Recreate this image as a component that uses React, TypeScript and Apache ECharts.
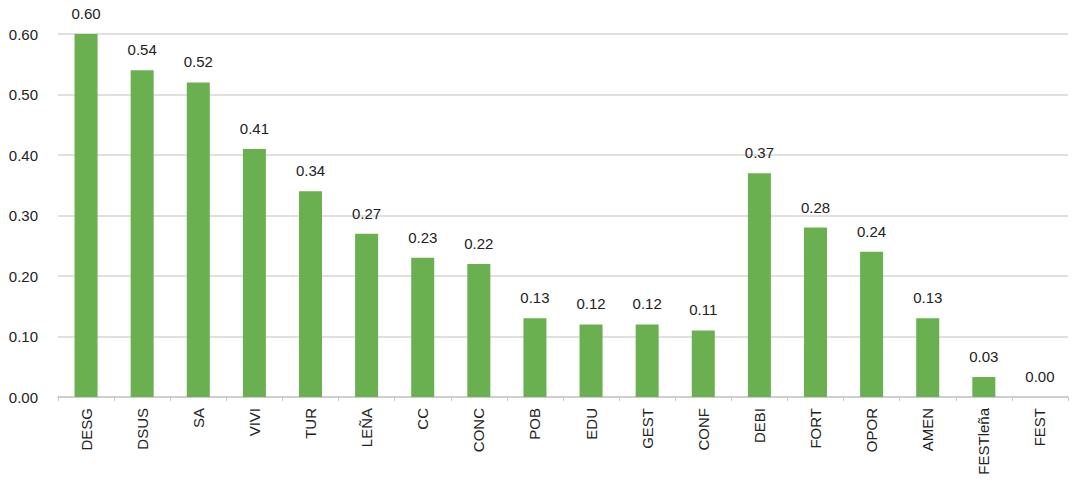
import React, { useEffect, useRef } from "react";
import * as echarts from "echarts";

const categories = ["DESG", "DSUS", "SA", "VIVI", "TUR", "LEÑA", "CC", "CONC", "POB", "EDU", "GEST", "CONF", "DEBI", "FORT", "OPOR", "AMEN", "FESTleña", "FEST"];
const values = [0.60, 0.54, 0.52, 0.41, 0.34, 0.27, 0.23, 0.22, 0.13, 0.12, 0.12, 0.11, 0.37, 0.28, 0.24, 0.13, 0.033, 0.0];
const yTicks = { min: 0, max: 0.6, interval: 0.1 };

export default function App() {
  const ref = useRef<HTMLDivElement>(null);
  useEffect(() => {
    document.body.style.margin = "0";
    if (!ref.current) return;
    const chart = echarts.init(ref.current, null, { renderer: "svg" });
    const font = "'Liberation Sans', Arial, sans-serif";
    chart.setOption({
      animation: false,
      grid: { left: 58, right: 4, top: 34, bottom: 91, containLabel: false },
      xAxis: {
        type: "category",
        data: categories,
        axisLine: { lineStyle: { color: "#c8c8c8", width: 1.5 } },
        axisTick: { show: true, alignWithLabel: false, length: 4, lineStyle: { color: "#c8c8c8" } },
        axisLabel: { rotate: 90, color: "#222", fontSize: 15, fontFamily: font, margin: 11, interval: 0 },
      },
      yAxis: {
        type: "value",
        min: yTicks.min,
        max: yTicks.max,
        interval: yTicks.interval,
        axisLine: { show: false },
        axisTick: { show: false },
        splitLine: { lineStyle: { color: "#d6d6d6", width: 1.5 } },
        axisLabel: { color: "#222", fontSize: 15, fontFamily: font, margin: 20, formatter: (v: number) => v.toFixed(2) },
      },
      series: [
        {
          type: "bar",
          data: values,
          barWidth: 23,
          itemStyle: { color: "#6aaf50" },
          label: {
            show: true,
            position: "top",
            distance: 13,
            color: "#222",
            fontSize: 15,
            fontFamily: font,
            formatter: (p: any) => (p.value as number).toFixed(2),
          },
        },
      ],
    });
    return () => chart.dispose();
  }, []);
  return <div ref={ref} style={{ width: 1072, height: 488 }} />;
}
